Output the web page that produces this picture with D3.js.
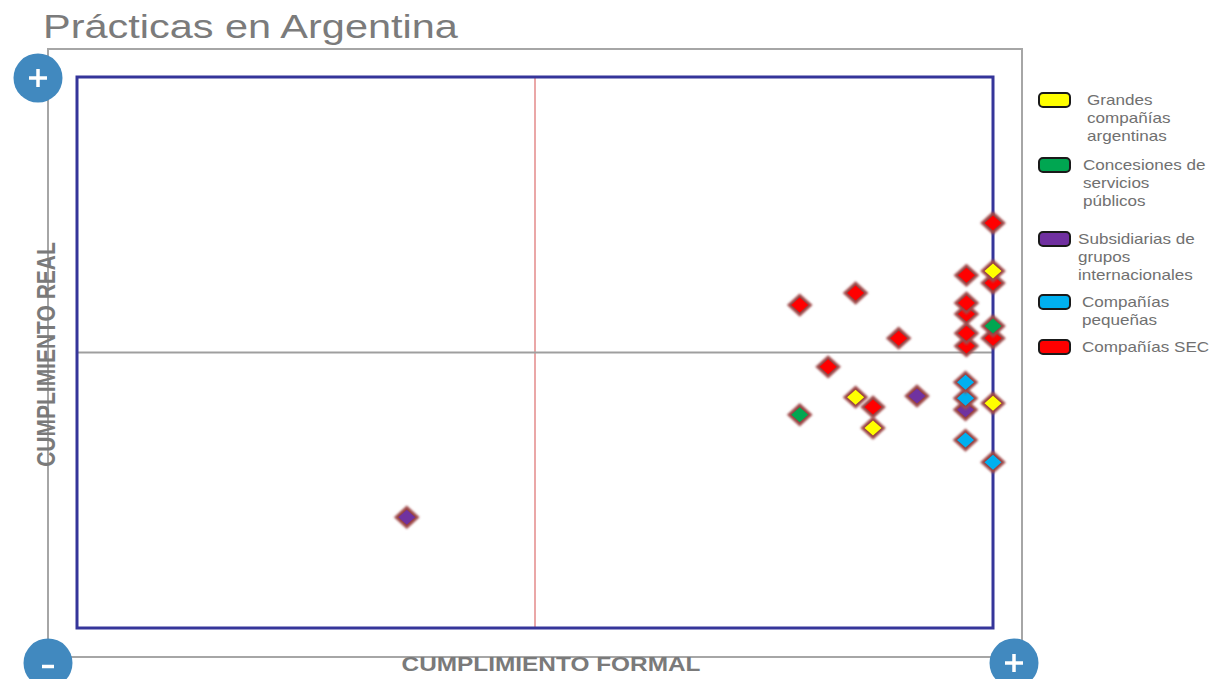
<!DOCTYPE html>
<html>
<head>
<meta charset="utf-8">
<script src="https://cdn.jsdelivr.net/npm/d3@7"></script>
<style>
  body { margin: 0; background: #fff; }
  svg { display: block; font-family: "Liberation Sans", Arial, sans-serif; }
</style>
</head>
<body>
<svg id="chart" width="1221" height="679"></svg>
<script>
// series names, one per legend entry (lines split for wrapping)
var seriesLabels = [
    ["Grandes", "compañías", "argentinas"],
    ["Concesiones de", "servicios", "públicos"],
    ["Subsidiarias de", "grupos", "internacionales"],
    ["Compañías", "pequeñas"],
    ["Compañías SEC"]
]
var seriesColors = ["#ffff00", "#00a651", "#7030a0", "#00b0f0", "#ff0000"]

// [cumplimiento formal, cumplimiento real], both on a 0-100 scale
var grandes = [[100, 64.8], [85.0, 41.9], [86.9, 36.3], [100, 40.8]]
var concesiones = [[100, 54.8], [78.9, 38.7]]
var subsidiarias = [[91.7, 42.1], [97.0, 39.6], [36.0, 20.1]]
var pequenas = [[97.0, 44.6], [97.0, 41.7], [97.0, 34.1], [100, 30.1]]
var sec = [[100, 73.5], [97.1, 64.0], [100, 62.6], [78.9, 58.6], [85.0, 60.8],
    [97.1, 59.0], [97.1, 57.0], [97.1, 53.5], [97.1, 51.2], [100, 52.6],
    [89.7, 52.6], [82.0, 47.4], [86.9, 40.1]]
var allSeries = [grandes, concesiones, subsidiarias, pequenas, sec]

var svg = d3.select("#chart")
var stretch = 1.22   // the original picture is a bit wide

var x = d3.scaleLinear().domain([0, 100]).range([77, 993])
var y = d3.scaleLinear().domain([0, 100]).range([628, 77])
var pad = 29

// title
svg.append("g")
    .attr("transform", "translate(43,38) scale(" + stretch + ",1)")
    .append("text")
    .style("font-size", "34px")
    .style("fill", "#7b7b7b")
    .text("Prácticas en Argentina")

// outer grey frame
svg.append("rect")
    .attr("x", x.range()[0] - pad).attr("y", y.range()[1] - pad + 1)
    .attr("width", x.range()[1] - x.range()[0] + pad * 2)
    .attr("height", y.range()[0] - y.range()[1] + pad * 2 - 1)
    .attr("fill", "none").attr("stroke", "#a6a6a6").attr("stroke-width", 2)

// axis titles (drawn over the frame)
svg.append("g")
    .attr("transform", "translate(" + (x(50) + 16) + ",671) scale(" + stretch + ",1)")
    .append("text")
    .attr("text-anchor", "middle")
    .style("font-size", "20px").style("font-weight", "bold")
    .style("fill", "#7a7a7a")
    .text("CUMPLIMIENTO FORMAL")

svg.append("g")
    .attr("transform", "translate(55," + (y(50) + 2) + ") scale(" + stretch + ",1) rotate(-90)")
    .append("text")
    .attr("text-anchor", "middle")
    .style("font-size", "21px").style("font-weight", "bold")
    .style("fill", "#7a7a7a")
    .text("CUMPLIMIENTO REAL")

// quadrant lines
svg.append("line")
    .attr("x1", x(50)).attr("x2", x(50)).attr("y1", y(100)).attr("y2", y(0))
    .attr("stroke", "#e38a8a").attr("stroke-width", 1.5)
svg.append("line")
    .attr("x1", x(0)).attr("x2", x(100)).attr("y1", y(50)).attr("y2", y(50))
    .attr("stroke", "#9f9f9f").attr("stroke-width", 2)

// inner plot frame
svg.append("rect")
    .attr("x", x(0)).attr("y", y(100))
    .attr("width", x(100) - x(0)).attr("height", y(0) - y(100))
    .attr("fill", "none").attr("stroke", "#35359a").attr("stroke-width", 3)

// corner buttons
var corners = [
    {cx: 38, cy: 78, sign: "+"},
    {cx: 48, cy: 663, sign: "-"},
    {cx: 1014, cy: 663, sign: "+"}
]
var btn = svg.selectAll("g.corner").data(corners).enter()
    .append("g").attr("class", "corner")
    .attr("transform", function(d) { return "translate(" + d.cx + "," + d.cy + ")" })
btn.append("circle").attr("r", 24.5).attr("fill", "#4189bf")
btn.append("line")
    .attr("x1", function(d) { return d.sign == "+" ? -9 : -6 })
    .attr("x2", function(d) { return d.sign == "+" ? 9 : 6 })
    .attr("y1", function(d) { return d.sign == "+" ? 0 : 3.5 })
    .attr("y2", function(d) { return d.sign == "+" ? 0 : 3.5 })
    .attr("stroke", "#fff").attr("stroke-width", 3.5)
btn.filter(function(d) { return d.sign == "+" }).append("line")
    .attr("x1", 0).attr("x2", 0).attr("y1", -9).attr("y2", 9)
    .attr("stroke", "#fff").attr("stroke-width", 3.5)

// markers
var defs = svg.append("defs")
defs.append("filter").attr("id", "soft")
    .attr("x", "-40%").attr("y", "-40%").attr("width", "180%").attr("height", "180%")
    .append("feGaussianBlur").attr("stdDeviation", 1.2)
defs.append("filter").attr("id", "softer")
    .append("feGaussianBlur").attr("stdDeviation", 0.5)

var points = []
allSeries.forEach(function(s, i) {
    s.forEach(function(p) { points.push({fx: p[0], fy: p[1], k: i}) })
})
// lower points first so the upper ones sit on top
points.sort(function(a, b) { return a.fy - b.fy })

var diamond = function(w, h) {
    return "M0," + (-h) + "L" + w + ",0L0," + h + "L" + (-w) + ",0Z"
}
var mk = svg.selectAll("g.pt").data(points).enter()
    .append("g").attr("class", "pt")
    .attr("transform", function(d) { return "translate(" + x(d.fx) + "," + y(d.fy) + ")" })
mk.append("path")
    .attr("d", diamond(11, 10))
    .attr("fill", "#8e3838").attr("stroke", "#a04c4c").attr("stroke-width", 2.5)
    .attr("filter", "url(#soft)")
mk.append("path")
    .attr("d", diamond(8.5, 7.5))
    .attr("fill", function(d) { return seriesColors[d.k] })
    .attr("filter", "url(#softer)")

// legend
var legendY = [100, 165, 239, 302, 347]
var legendTextX = [1087, 1083, 1078, 1082, 1082]
var lg = svg.selectAll("g.legend").data(seriesLabels).enter()
    .append("g").attr("class", "legend")
lg.append("rect")
    .attr("x", 1039).attr("y", function(d, i) { return legendY[i] - 7 })
    .attr("width", 31).attr("height", 14).attr("rx", 4)
    .attr("fill", function(d, i) { return seriesColors[i] })
    .attr("stroke", "#1a1a1a").attr("stroke-width", 2)
lg.each(function(lines, i) {
    var g = d3.select(this).append("g")
        .attr("transform", "translate(" + legendTextX[i] + "," + (legendY[i] + 5) + ") scale(" + stretch + ",1)")
    lines.forEach(function(t, j) {
        g.append("text")
            .attr("y", j * 18)
            .style("font-size", "14px")
            .style("fill", "#707070")
            .text(t)
    })
})
</script>
</body>
</html>
